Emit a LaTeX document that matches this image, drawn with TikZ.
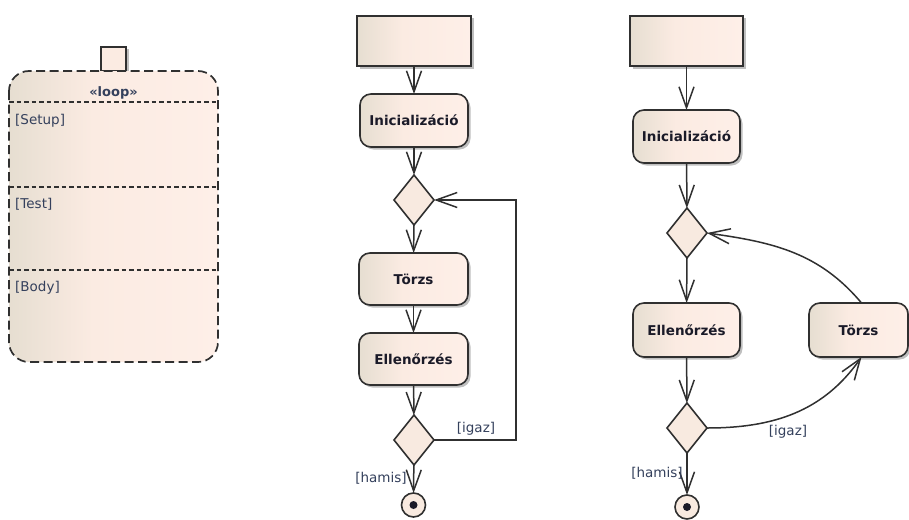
\documentclass[tikz,border=0pt]{standalone}
\usepackage{fontspec}
\newfontfamily\uifont{DejaVu Sans}
\usetikzlibrary{arrows.meta,shapes.geometric,shadows}
\definecolor{edge}{HTML}{303030}
\definecolor{fillA}{HTML}{E6DED1}
\definecolor{fillB}{HTML}{FBEBE2}
\definecolor{fillC}{HTML}{FEEFE8}
\definecolor{diafill}{HTML}{F8EAE0}
\definecolor{nodetext}{HTML}{1A1A28}
\definecolor{lbl}{HTML}{34405C}
% left-to-right fill used by the activity boxes
\pgfdeclarehorizontalshading{umlfill}{100bp}{color(0bp)=(fillA); color(25bp)=(fillA); color(45bp)=(fillB); color(75bp)=(fillC); color(100bp)=(fillC)}
\tikzset{
  x=1pt, y=1pt,
  conn/.style={draw=edge, line width=1.5pt},
  flow/.style={conn, -{Straight Barb[length=21pt,width=15pt]}},
  softshadow/.style={drop shadow={shadow xshift=2.5pt, shadow yshift=-2.5pt, fill=black, opacity=0.25}},
  action/.style={rectangle, rounded corners=11pt, draw=edge, line width=1.6pt,
    shade, shading=umlfill, softshadow, minimum width=108pt, minimum height=53pt,
    inner sep=0pt, outer sep=0pt, text=nodetext,
    font=\uifont\bfseries\fontsize{13.5}{15}\selectfont},
  startbox/.style={rectangle, draw=edge, line width=1.6pt, shade, shading=umlfill,
    softshadow, minimum width=113pt, minimum height=50pt, inner sep=0pt, outer sep=0pt},
  decision/.style={diamond, draw=edge, line width=1.6pt, fill=diafill,
    minimum width=40pt, minimum height=50pt, inner sep=0pt, outer sep=0pt},
  final/.style={circle, draw=edge, line width=1.6pt, fill=diafill,
    minimum size=24pt, inner sep=0pt, outer sep=0pt},
  guard/.style={font=\uifont\fontsize{13.5}{15}\selectfont, text=lbl, inner sep=0pt},
  partlabel/.style={font=\uifont\fontsize{13.5}{15}\selectfont, text=lbl, inner sep=0pt, anchor=west},
  divider/.style={draw=edge, line width=1.4pt, dash pattern=on 4.5pt off 3pt},
}
\begin{document}
\begin{tikzpicture}
\fill[white] (0,0) rectangle (909,-519);
\useasboundingbox (0,0) rectangle (909,-519);

% ---- loop fragment ----
\node[rectangle, draw=edge, line width=1.6pt, fill=fillB, softshadow,
      minimum width=25pt, minimum height=24pt, inner sep=0pt] (pin) at (113.5,-59) {};
\shade[shading=umlfill, rounded corners=20pt] (9,-71) rectangle (218,-362);
\draw[edge, line width=1.7pt, dash pattern=on 9pt off 4.5pt, rounded corners=20pt]
  (9,-71) rectangle (218,-362);
\draw[divider] (9,-102) -- (218,-102);
\draw[divider] (9,-187) -- (218,-187);
\draw[divider] (9,-270) -- (218,-270);
\node[font=\uifont\bfseries\fontsize{13}{15}\selectfont, text=lbl, inner sep=0pt] (looptitle) at (113.5,-93) {«loop»};
\node[partlabel] (setup) at (15,-121) {[Setup]};
\node[partlabel] (test) at (15,-204) {[Test]};
\node[partlabel] (bodyl) at (15,-288) {[Body]};

% ---- middle activity ----
\node[startbox, minimum width=114pt] (s1) at (414,-41) {};
\node[action] (i1) at (414,-120.5) {Inicializáció};
\node[decision] (d1) at (414,-200) {};
\node[action, minimum width=109pt, minimum height=52pt] (b1) at (413.5,-279) {Törzs};
\node[action, minimum width=109pt, minimum height=52pt] (c1) at (413.5,-359) {Ellenőrzés};
\node[decision] (d2) at (414,-440) {};
\node[final] (f1) at (413.5,-505) {};
\fill[nodetext] (f1.center) circle (4pt);
\coordinate (back1) at (516,-320);

\draw[flow] (s1) -- (i1);
\draw[flow] (i1) -- (d1);
\draw[flow] (d1) -- (b1);
\draw[flow] (b1) -- (c1);
\draw[flow] (c1) -- (d2);
\draw[flow] (d2) -- (f1);
\draw[flow] (d2.east) -| (back1 |- d1.east) -- (d1.east);
\node[guard] (g1) at (476,-429) {[igaz]};
\node[guard] (h1) at (381,-478) {[hamis]};

% ---- right activity ----
\node[startbox] (s2) at (686.5,-41) {};
\node[action, minimum width=107pt] (i2) at (686.5,-136.5) {Inicializáció};
\node[decision] (d3) at (687,-233) {};
\node[action, minimum width=107pt, minimum height=54pt] (c2) at (686.5,-330) {Ellenőrzés};
\node[action, minimum width=99pt, minimum height=54pt] (b2) at (858.5,-330) {Törzs};
\node[decision] (d4) at (687,-428) {};
\node[final] (f2) at (687,-507) {};
\fill[nodetext] (f2.center) circle (4pt);

\draw[flow] (s2) -- (i2);
\draw[flow] (i2) -- (d3);
\draw[flow] (d3) -- (c2);
\draw[flow] (c2) -- (d4);
\draw[flow] (d4) -- (f2);
\draw[flow] (d4.east) to[out=0, in=235] ([xshift=3pt]b2.south);
\draw[flow] ([xshift=3pt]b2.north) to[out=130, in=-8] (d3.east);
\node[guard] (g2) at (788,-432) {[igaz]};
\node[guard] (h2) at (657,-473) {[hamis]};
\end{tikzpicture}
\end{document}
